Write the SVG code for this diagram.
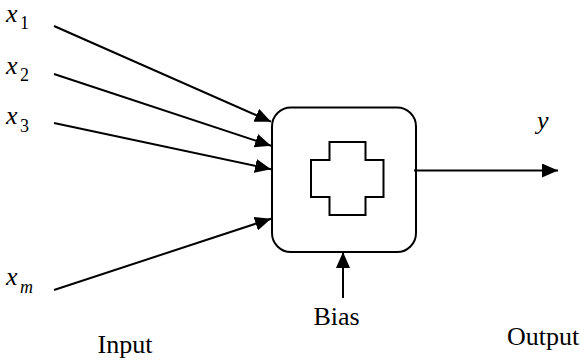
<svg xmlns="http://www.w3.org/2000/svg" width="580" height="363" viewBox="0 0 580 363">
  <style>
    .var { font-style: italic; font-size: 26px; }
    .sub { font-style: italic; font-size: 18px; }
    .subn { font-style: normal; font-size: 18px; }
    .lbl { font-size: 26px; }
    .wire { stroke: #000; stroke-width: 2; fill: none; marker-end: url(#head); }
    .shape { stroke: #000; stroke-width: 2; fill: #fff; }
  </style>
  <defs>
    <marker id="head" markerUnits="userSpaceOnUse" markerWidth="16" markerHeight="14" refX="16" refY="7" orient="auto">
      <path d="M0,0 L16,7 L0,14 Z" fill="#000"/>
    </marker>
  </defs>

  <rect width="580" height="363" fill="#fff"/>

  <g font-family="'Liberation Serif', 'Times New Roman', serif" fill="#000">
    <!-- input variables -->
    <g id="x1"><text class="var" x="6" y="22">x</text><text class="subn" x="20" y="29">1</text></g>
    <g id="x2"><text class="var" x="6" y="74">x</text><text class="subn" x="20" y="81">2</text></g>
    <g id="x3"><text class="var" x="6" y="124">x</text><text class="subn" x="20" y="132">3</text></g>
    <g id="xm"><text class="var" x="6" y="285">x</text><text class="sub" x="20" y="293">m</text></g>

    <g id="output-y"><text class="var" x="537" y="129">y</text></g>
    <g id="bias"><text class="lbl" x="313.5" y="325">Bias</text></g>
    <g id="input-label"><text class="lbl" x="97.5" y="353">Input</text></g>
    <g id="output-label"><text class="lbl" x="507" y="345">Output</text></g>
  </g>

  <!-- neuron: rounded box with summing cross -->
  <g id="neuron">
    <rect class="shape" x="272" y="107.5" width="144" height="144.5" rx="19"/>
    <path class="shape" d="M329.5,142 H365.5 V160 H383.5 V197 H365.5 V215 H329.5 V197 H311 V160 H329.5 Z"/>
  </g>

  <!-- connectors -->
  <g id="connectors">
    <line class="wire" x1="54" y1="26" x2="271" y2="121.7"/>
    <line class="wire" x1="54" y1="74" x2="271" y2="145.7"/>
    <line class="wire" x1="54" y1="123" x2="271" y2="169.3"/>
    <line class="wire" x1="54" y1="290" x2="271" y2="218.7"/>
    <line class="wire" x1="343" y1="298" x2="343" y2="252"/>
    <line class="wire" x1="414" y1="170.5" x2="558" y2="170.5"/>
  </g>
</svg>
